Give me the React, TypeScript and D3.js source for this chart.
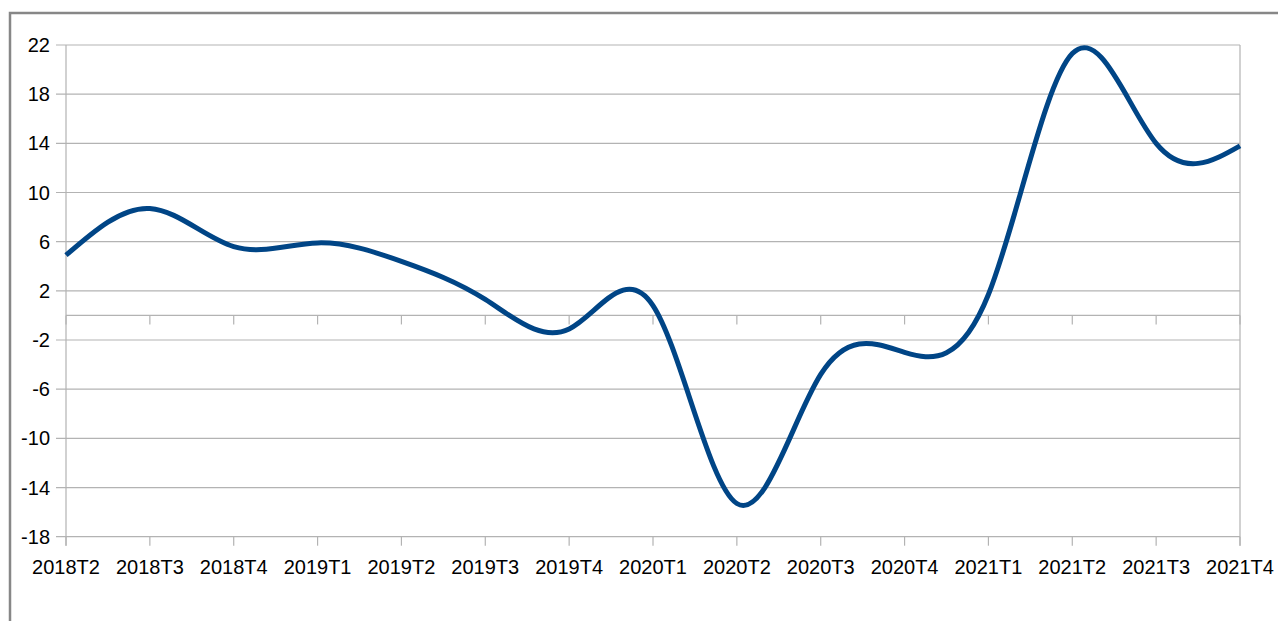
import React, { useEffect, useRef } from 'react';
import * as d3 from 'd3';

const quarters = [
  '2018T2', '2018T3', '2018T4', '2019T1', '2019T2', '2019T3', '2019T4', '2020T1',
  '2020T2', '2020T3', '2020T4', '2021T1', '2021T2', '2021T3', '2021T4',
];
const values = [4.9, 8.7, 5.6, 5.9, 4.4, 1.3, -1.1, 0.8, -15.3, -4.8, -3.0, 1.7, 21.3, 14.0, 13.8];
const yTicks = [-18, -14, -10, -6, -2, 2, 6, 10, 14, 18, 22];

const Chart = () => {
  const ref = useRef<SVGSVGElement>(null);

  useEffect(() => {
    const svg = d3.select(ref.current);
    svg.selectAll('*').remove();

    const width = 1278;
    const height = 621;
    const left = 66, right = 1240, top = 45, bottom = 536.7;
    const grid = '#b3b3b3';
    const font = '"Liberation Sans", Arial, sans-serif';

    svg.attr('width', width).attr('height', height);

    // outer frame (clipped at right/bottom)
    svg.append('rect')
      .attr('x', 10).attr('y', 13)
      .attr('width', 1400).attr('height', 800)
      .attr('fill', 'white')
      .attr('stroke', '#878787')
      .attr('stroke-width', 2.5);

    const x = d3.scalePoint<string>().domain(quarters).range([left, right]);
    const y = d3.scaleLinear().domain([-18, 22]).range([bottom, top]);

    // horizontal gridlines
    svg.append('g').selectAll('line')
      .data(yTicks)
      .enter().append('line')
      .attr('x1', left - 10).attr('x2', right)
      .attr('y1', d => y(d)).attr('y2', d => y(d))
      .attr('stroke', grid).attr('stroke-width', 1.2);

    // plot side lines
    svg.append('line')
      .attr('x1', left).attr('x2', left).attr('y1', top).attr('y2', bottom + 9)
      .attr('stroke', grid).attr('stroke-width', 1.2);
    svg.append('line')
      .attr('x1', right).attr('x2', right).attr('y1', top).attr('y2', bottom + 9)
      .attr('stroke', grid).attr('stroke-width', 1.2);

    // zero axis line with ticks
    svg.append('line')
      .attr('x1', left).attr('x2', right).attr('y1', y(0)).attr('y2', y(0))
      .attr('stroke', grid).attr('stroke-width', 1.2);
    svg.append('g').selectAll('line')
      .data(quarters)
      .enter().append('line')
      .attr('x1', d => x(d)!).attr('x2', d => x(d)!)
      .attr('y1', y(0)).attr('y2', y(0) + 9)
      .attr('stroke', grid).attr('stroke-width', 1.2);

    // bottom ticks
    svg.append('g').selectAll('line')
      .data(quarters)
      .enter().append('line')
      .attr('x1', d => x(d)!).attr('x2', d => x(d)!)
      .attr('y1', bottom).attr('y2', bottom + 9)
      .attr('stroke', grid).attr('stroke-width', 1.2);

    // y labels
    svg.append('g').selectAll('text')
      .data(yTicks)
      .enter().append('text')
      .attr('x', 50)
      .attr('y', d => y(d))
      .attr('dy', '0.35em')
      .attr('text-anchor', 'end')
      .style('font-family', font)
      .style('font-size', '20px')
      .attr('fill', '#000')
      .text(d => d);

    // x labels
    svg.append('g').selectAll('text')
      .data(quarters)
      .enter().append('text')
      .attr('x', d => x(d)!)
      .attr('y', 574)
      .attr('text-anchor', 'middle')
      .style('font-family', font)
      .style('font-size', '20px')
      .attr('fill', '#000')
      .text(d => d);

    const line = d3.line<number>()
      .x((d, i) => x(quarters[i])!)
      .y(d => y(d))
      .curve(d3.curveNatural);

    svg.append('path')
      .datum(values)
      .attr('d', line)
      .attr('fill', 'none')
      .attr('stroke', '#004586')
      .attr('stroke-width', 5)
      .attr('stroke-linejoin', 'round');
  }, []);

  return <svg ref={ref} style={{ position: 'fixed', left: 0, top: 0, display: 'block' }}></svg>;
};

export default function App() {
  return <Chart />;
}
